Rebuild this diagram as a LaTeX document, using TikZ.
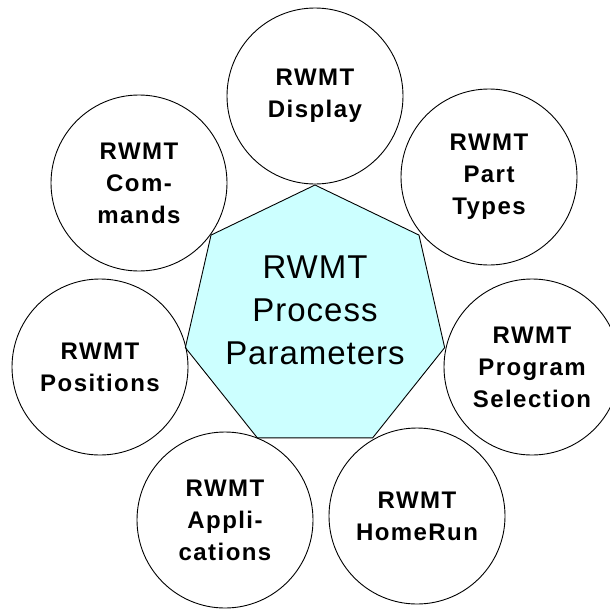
\documentclass[tikz,border=0pt]{standalone}
\usepackage{fontspec}
\setmainfont{Liberation Sans}
\newfontfamily\circfont[LetterSpace=6]{Liberation Sans}
\newfontfamily\centfont[LetterSpace=3]{Liberation Sans}
\usetikzlibrary{calc}
\definecolor{hepfill}{HTML}{CCFFFF}
\tikzset{
  topic/.style={circle, draw=black, line width=0.9pt, minimum size=176pt, inner sep=0pt, outer sep=0pt,
    align=center, font=\circfont\bfseries\fontsize{24}{32}\selectfont},
  hubshape/.style={draw=black, line width=0.9pt, fill=hepfill, line join=miter},
  hubtext/.style={align=center, font=\centfont\fontsize{33}{43}\selectfont, inner sep=0pt}
}
\begin{document}
\begin{tikzpicture}[x=1pt,y=-1pt]
\useasboundingbox (0,0) rectangle (610,608);
\clip (0,0) rectangle (610,608);
\coordinate (hc) at (315,318);
\draw[hubshape] ($(hc)+(-90:133)$)
  \foreach \k in {1,...,6} { -- ($(hc)+({-90+\k*360/7}:133)$) } -- cycle;
\node[hubtext] (hub) at (315,310) {RWMT\\Process\\Parameters};
\node[topic] (display) at (315,96) {RWMT\\Display};
\node[topic] (commands) at (139,183) {RWMT\\Com-\\mands};
\node[topic] (parttypes) at (489,177) {RWMT\\Part\\Types};
\node[topic] (positions) at (100,367) {RWMT\\Positions};
\node[topic] (progsel) at (532,367) {RWMT\\Program\\Selection};
\node[topic] (apps) at (225,520) {RWMT\\Appli-\\cations};
\node[topic] (homerun) at (417,516) {RWMT\\HomeRun};
\end{tikzpicture}
\end{document}
